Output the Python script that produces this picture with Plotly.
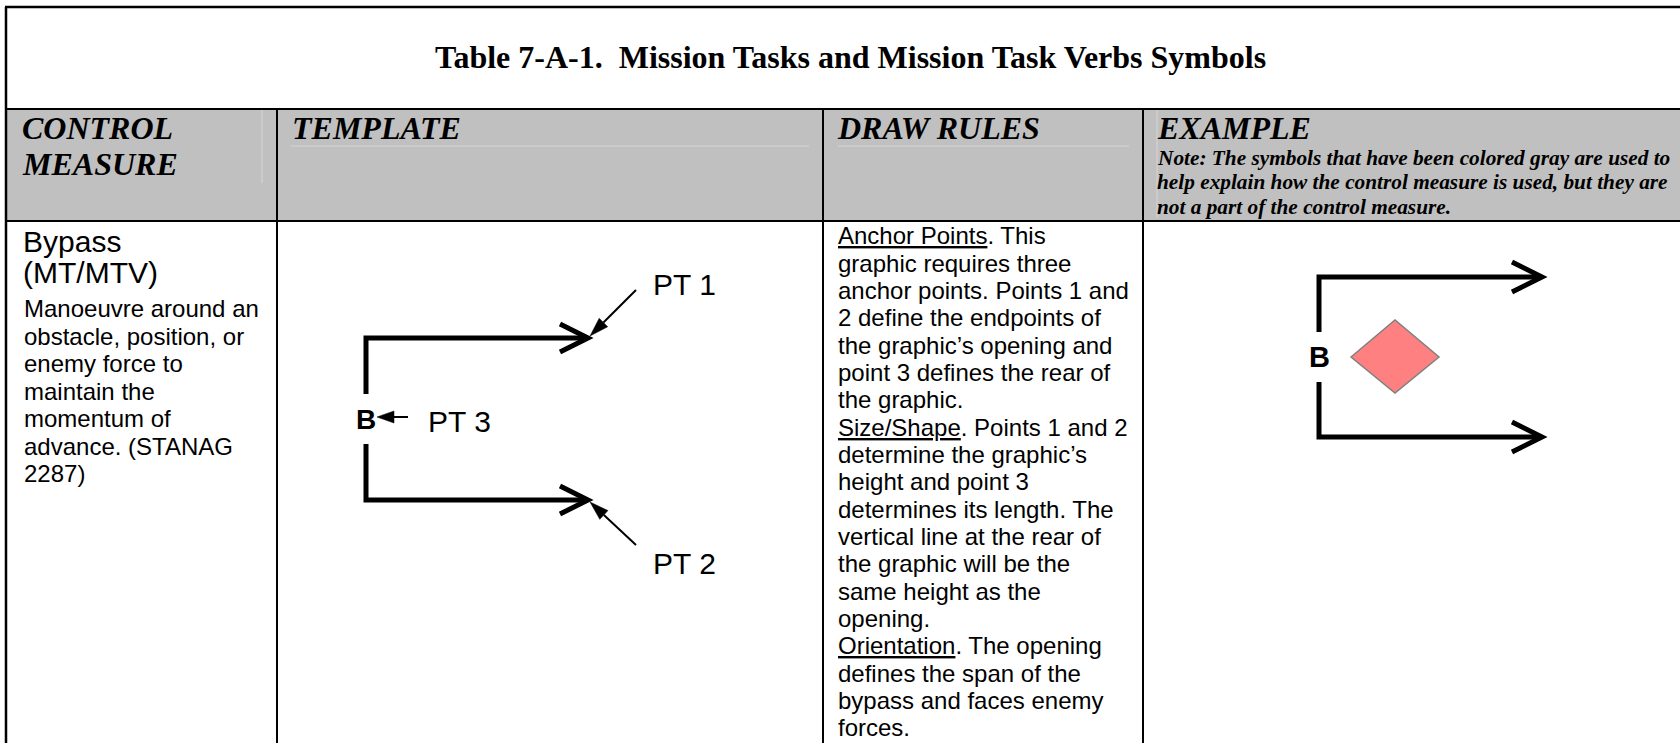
import math
import plotly.graph_objects as go

# ---------------- content (text data) ----------------
title_text = "Table 7-A-1.  Mission Tasks and Mission Task Verbs Symbols"
header_labels = [["CONTROL", "MEASURE"], ["TEMPLATE"], ["DRAW RULES"], ["EXAMPLE"]]
example_note = [
    "Note: The symbols that have been colored gray are used to",
    "help explain how the control measure is used, but they are",
    "not a part of the control measure.",
]
measure_name = ["Bypass", "(MT/MTV)"]
measure_desc = [
    "Manoeuvre around an",
    "obstacle, position, or",
    "enemy force to",
    "maintain the",
    "momentum of",
    "advance. (STANAG",
    "2287)",
]
draw_rules = [
    "<u>Anchor Points</u>. This",
    "graphic requires three",
    "anchor points. Points 1 and",
    "2 define the endpoints of",
    "the graphic\u2019s opening and",
    "point 3 defines the rear of",
    "the graphic.",
    "<u>Size/Shape</u>. Points 1 and 2",
    "determine the graphic\u2019s",
    "height and point 3",
    "determines its length. The",
    "vertical line at the rear of",
    "the graphic will be the",
    "same height as the",
    "opening.",
    "<u>Orientation</u>. The opening",
    "defines the span of the",
    "bypass and faces enemy",
    "forces.",
]
template_labels = ["PT 1", "PT 2", "PT 3"]
symbol_letter = "B"

# ---------------- layout geometry ----------------
W, H = 1680, 743
TABLE_L, TABLE_T = 6, 7
ROW_Y = [109, 221]
COL_X = [277, 823, 1143]
HEADER_FILL = "#c0c0c0"
FAINT = "#d6d6d6"
SANS = "Liberation Sans"
SERIF = "Liberation Serif"

fig = go.Figure()
fig.add_trace(go.Scatter(x=[0, W], y=[0, H], mode="markers",
                         marker=dict(opacity=0), hoverinfo="skip", showlegend=False))


def line(x0, y0, x1, y1, w=2, color="black"):
    fig.add_shape(type="line", x0=x0, y0=y0, x1=x1, y1=y1, xref="x", yref="y",
                  line=dict(color=color, width=w))


def path(pts, w=5, color="black", fill=None):
    d = "M " + " L ".join(f"{x},{y}" for x, y in pts)
    if fill:
        d += " Z"
    fig.add_shape(type="path", path=d, xref="x", yref="y",
                  line=dict(color=color, width=w),
                  fillcolor=fill if fill else "rgba(0,0,0,0)")


def txt(s, x, baseline, size, family=SANS, weight="normal", style="normal", xanchor="left"):
    k = 0.3465 if family == SANS else 0.3375
    fig.add_annotation(x=x, y=baseline - k * size, text=s, xref="x", yref="y",
                       showarrow=False, xanchor=xanchor, yanchor="middle",
                       borderpad=0, borderwidth=0,
                       font=dict(family=family, size=size, color="black",
                                 weight=weight, style=style))


def ctxt(s, x, yc, size, weight="bold"):
    fig.add_annotation(x=x, y=yc, text=s, xref="x", yref="y", showarrow=False,
                       xanchor="center", yanchor="middle", borderpad=0, borderwidth=0,
                       font=dict(family=SANS, size=size, color="black", weight=weight))


# header background
fig.add_shape(type="rect", x0=TABLE_L, y0=ROW_Y[0], x1=W, y1=ROW_Y[1], xref="x", yref="y",
              fillcolor=HEADER_FILL, line=dict(width=0), layer="below")

# faint text-box artefacts in the header
line(262, 110, 262, 183, 1, FAINT)
line(291, 146, 809, 146, 1, FAINT)
line(838, 146, 1129, 146, 1, FAINT)
line(1157, 110, 1157, 218, 1, FAINT)

# table grid
line(TABLE_L - 1, TABLE_T, W, TABLE_T, 2.5)
line(TABLE_L, TABLE_T, TABLE_L, H, 2.5)
for yy in ROW_Y:
    line(TABLE_L, yy, W, yy, 2)
for xx in COL_X:
    line(xx, ROW_Y[0], xx, H, 2)

# title
txt(title_text, 850, 68, 32, SERIF, "bold", xanchor="center")

# header labels
col_text_x = [22, COL_X[0] + 15, COL_X[1] + 14, COL_X[2] + 14]
for i, labels in enumerate(header_labels):
    for j, lab in enumerate(labels):
        txt(lab, col_text_x[i], 139 + 36 * j, 32, SERIF, "bold", "italic")
for j, s in enumerate(example_note):
    txt(s, col_text_x[3], 165 + 24.5 * j, 21.3, SERIF, "bold", "italic")

# control measure column
for j, s in enumerate(measure_name):
    txt(s, 23, 252 + 31 * j, 30)
for j, s in enumerate(measure_desc):
    txt(s, 24, 317 + 27.5 * j, 24)

# draw rules column
for j, s in enumerate(draw_rules):
    txt(s, col_text_x[2] + 1, 244 + 27.35 * j, 24)


# ---------------- symbols ----------------
def bypass(x_rear, x_tip, y_top, y_bot, gap, head_len, head_half, letter_size):
    yc = (y_top + y_bot) / 2
    path([(x_rear, yc - gap), (x_rear, y_top), (x_tip, y_top)])
    path([(x_rear, yc + gap), (x_rear, y_bot), (x_tip, y_bot)])
    for yy in (y_top, y_bot):
        path([(x_tip - head_len, yy - head_half), (x_tip, yy), (x_tip - head_len, yy + head_half)])
    ctxt(symbol_letter, x_rear, yc, letter_size)
    return yc


def pointer(tail, tip, head_len=19, head_half=6):
    dx, dy = tip[0] - tail[0], tip[1] - tail[1]
    L = math.hypot(dx, dy)
    ux, uy = dx / L, dy / L
    bx, by = tip[0] - ux * head_len, tip[1] - uy * head_len
    line(tail[0], tail[1], bx, by, 2)
    path([(tip[0], tip[1]),
          (bx - uy * head_half, by + ux * head_half),
          (bx + uy * head_half, by - ux * head_half)], w=0.5, fill="black")


# template
yc = bypass(366, 588, 338, 500, 25, 28, 14, 28)
pointer((636, 290), (590, 336))
pointer((636, 545), (590, 502))
pointer((408, yc - 2), (377, yc - 2), head_len=17, head_half=6)
txt(template_labels[0], 653, 295, 30)
txt(template_labels[1], 653, 574, 30)
txt(template_labels[2], 428, 432, 30)

# example
yc2 = bypass(1319, 1542, 277, 437, 25, 30, 15, 29)
fig.add_shape(type="path", xref="x", yref="y",
              path=f"M 1351,{yc2} L 1395,{yc2 - 37} L 1439,{yc2} L 1395,{yc2 + 36} Z",
              fillcolor="#ff8080", line=dict(color="#808080", width=1.5))

fig.update_layout(
    width=W, height=H, margin=dict(l=0, r=0, t=0, b=0),
    paper_bgcolor="white", plot_bgcolor="white", showlegend=False,
    xaxis=dict(range=[0, W], visible=False, fixedrange=True),
    yaxis=dict(range=[H, 0], visible=False, fixedrange=True),
)

fig.write_html("out.html", config={"displayModeBar": False, "staticPlot": True},
               post_script="document.body.style.margin='0';document.body.style.overflow='hidden';")
